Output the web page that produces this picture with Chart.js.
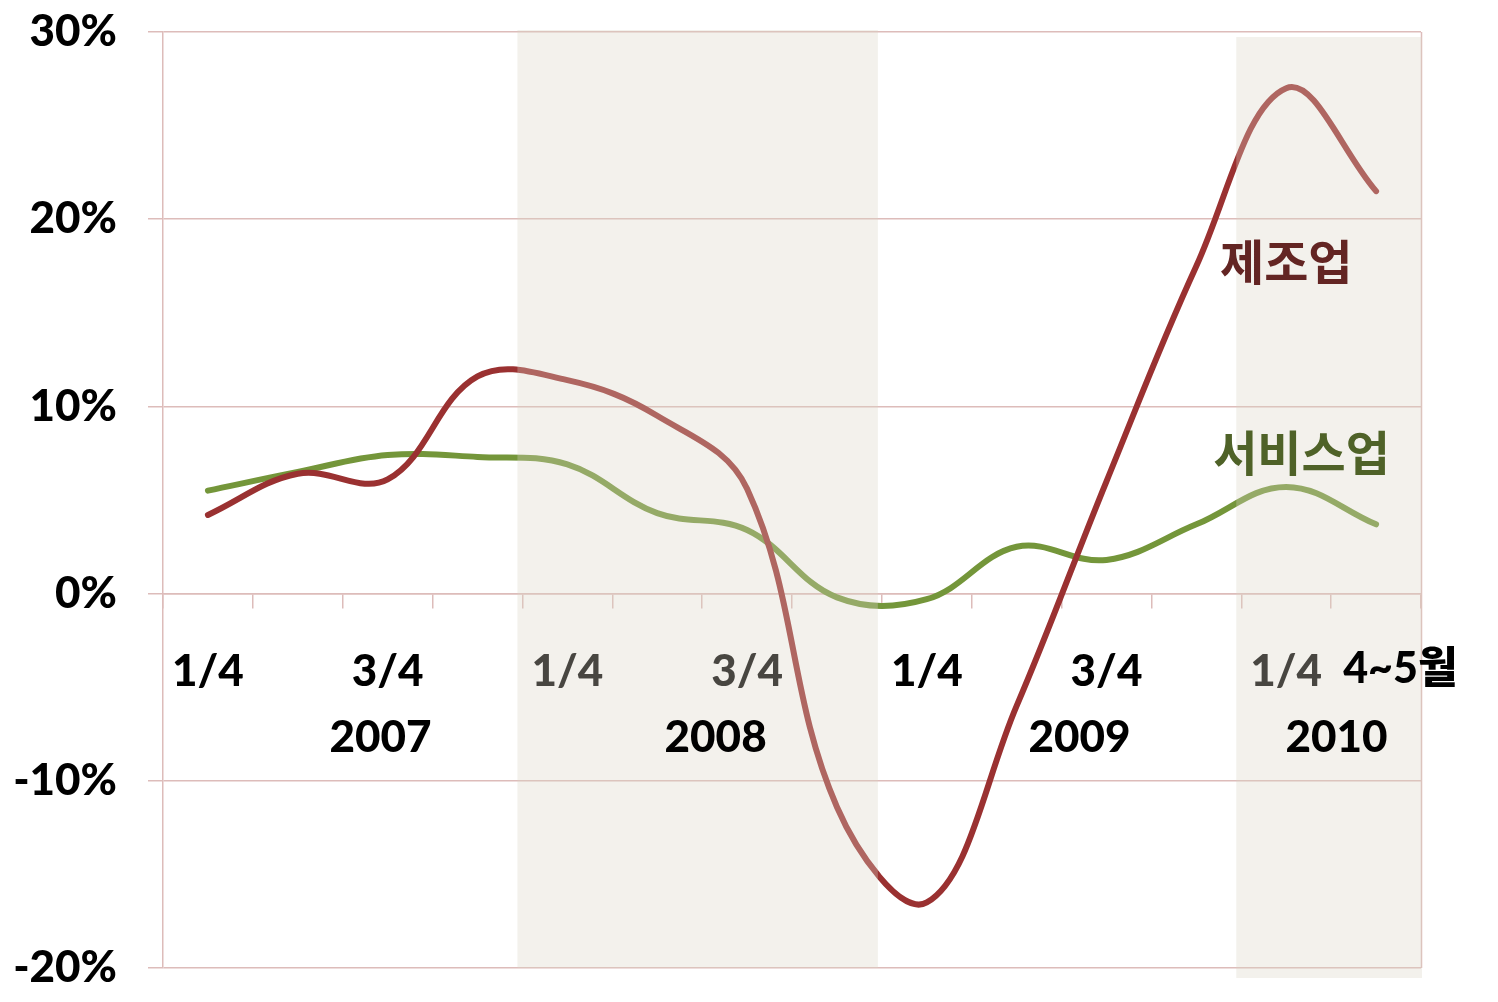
<!DOCTYPE html>
<html>
<head>
<meta charset="utf-8">
<script src="https://cdn.jsdelivr.net/npm/chart.js@4.4.1/dist/chart.umd.min.js"></script>
<style>
  html, body { margin: 0; padding: 0; background: #ffffff; }
  #wrap { width: 1498px; height: 1002px; position: relative; }
</style>
</head>
<body>
<div id="wrap"><canvas id="c" width="1498" height="1002"></canvas></div>
<script>
// ---- data ----
const categories = ['2007 1/4','2007 2/4','2007 3/4','2007 4/4','2008 1/4','2008 2/4','2008 3/4','2008 4/4','2009 1/4','2009 2/4','2009 3/4','2009 4/4','2010 1/4','2010 4~5월'];
const tickLabels = ['1/4','','3/4','','1/4','','3/4','','1/4','','3/4','','1/4',''];
const lastLabel = '4~5월';
const years = ['2007','2008','2009','2010'];
const yearIndexPos = [1.92, 5.65, 9.7, 12.56];
const manufacturing = [4.2, 6.4, 6.1, 11.6, 11.4, 9.5, 5.6, -11.4, -16.5, -6.0, 6.0, 17.5, 27.0, 21.5];
const services = [5.5, 6.5, 7.4, 7.3, 6.9, 4.3, 3.4, -0.2, -0.3, 2.5, 1.8, 3.7, 5.7, 3.7];
const seriesNames = ['제조업', '서비스업'];
const shadeSpans = [[3.5, 7.5], [11.5, 13.5]];
const yTicks = [-20, -10, 0, 10, 20, 30];

// ---- styles ----
const GRID = '#DDBCBA';
const RED = '#9A3131';
const GREEN = '#74963A';
const LATIN = "Lato, 'Noto Sans CJK KR', sans-serif";
const KOR = "'Noto Sans CJK KR', Lato, sans-serif";

const overlayPlugin = {
  id: 'overlay',
  afterDatasetsDraw(chart) {
    const {ctx, chartArea, scales} = chart;
    const x = scales.x;
    ctx.save();
    ctx.strokeStyle = GRID; ctx.lineWidth = 1.5;
    ctx.beginPath(); ctx.moveTo(chartArea.right + 0.5, chartArea.top); ctx.lineTo(chartArea.right + 0.5, chartArea.bottom); ctx.stroke();
    ctx.fillStyle = 'rgba(220, 213, 198, 0.33)';
    shadeSpans.forEach((s, i) => {
      const l = x.getPixelForValue(s[0]) - 5;
      const r = i === shadeSpans.length - 1 ? chartArea.right + 1 : x.getPixelForValue(s[1]) - 4;
      const t = i === 0 ? chartArea.top - 2 : chartArea.top + 5;
      const b = i === 0 ? chartArea.bottom : chartArea.bottom + 10;
      ctx.fillRect(l, t, r - l, b - t);
    });
    ctx.restore();
  },
  afterDraw(chart) {
    const {ctx, scales} = chart;
    const x = scales.x, y = scales.y;
    const axisY = y.getPixelForValue(0);
    ctx.save();
    ctx.textAlign = 'center';
    ctx.textBaseline = 'middle';
    ctx.fillStyle = '#000000';
    ctx.font = '900 44px ' + LATIN;
    years.forEach((t, i) => {
      ctx.fillText(t, x.getPixelForValue(yearIndexPos[i]), axisY + 144);
    });
    ctx.font = '900 43px ' + LATIN;
    ctx.fillText(lastLabel, x.getPixelForValue(13.27), axisY + 76);
    ctx.font = 'bold 48px ' + KOR;
    ctx.fillStyle = '#632523';
    ctx.fillText(seriesNames[0], x.getPixelForValue(12.0), y.getPixelForValue(17.7));
    ctx.fillStyle = '#4F6228';
    ctx.fillText(seriesNames[1], x.getPixelForValue(12.17), y.getPixelForValue(7.5));
    ctx.restore();
  }
};

function build() {
  new Chart(document.getElementById('c'), {
    type: 'line',
    data: {
      labels: categories,
      datasets: [
        { label: seriesNames[0], data: manufacturing, borderColor: RED, borderWidth: 6, tension: 0.38,
          pointRadius: 0, borderCapStyle: 'round', borderJoinStyle: 'round', fill: false },
        { label: seriesNames[1], data: services, borderColor: GREEN, borderWidth: 6, tension: 0.38,
          pointRadius: 0, borderCapStyle: 'round', borderJoinStyle: 'round', fill: false }
      ]
    },
    options: {
      responsive: false,
      devicePixelRatio: 1,
      animation: false,
      layout: { padding: { left: 0, top: 32, right: 77, bottom: 34 } },
      plugins: { legend: { display: false }, tooltip: { enabled: false } },
      scales: {
        x: {
          type: 'category',
          position: { y: 0 },
          offset: true,
          grid: { offset: true, drawOnChartArea: false, drawTicks: true, tickLength: 14, color: GRID, lineWidth: 1.5 },
          border: { color: GRID, width: 1.5 },
          ticks: {
            autoSkip: false, maxRotation: 0, padding: 38,
            color: '#000000',
            font: { family: LATIN, size: 44, weight: '900' },
            callback: (v, i) => tickLabels[i]
          }
        },
        y: {
          min: -20, max: 30,
          afterFit: s => { s.width = 163; s.paddingTop = 0; s.paddingBottom = 0; },
          afterBuildTicks: s => { s.ticks = yTicks.map(v => ({ value: v })); },
          grid: { color: GRID, lineWidth: 1.5, tickLength: 15, drawTicks: true },
          border: { color: GRID, width: 1.5 },
          ticks: {
            padding: 31,
            color: '#000000',
            font: { family: LATIN, size: 44, weight: '900' },
            callback: v => v + '%'
          }
        }
      }
    },
    plugins: [overlayPlugin]
  });
}

if (document.fonts && document.fonts.load) {
  Promise.all([
    document.fonts.load('900 44px Lato'),
    document.fonts.load('bold 44px Lato'),
    document.fonts.load('bold 48px "Noto Sans CJK KR"', '제조업서비스월')
  ]).then(build, build);
} else { build(); }
</script>
</body>
</html>
